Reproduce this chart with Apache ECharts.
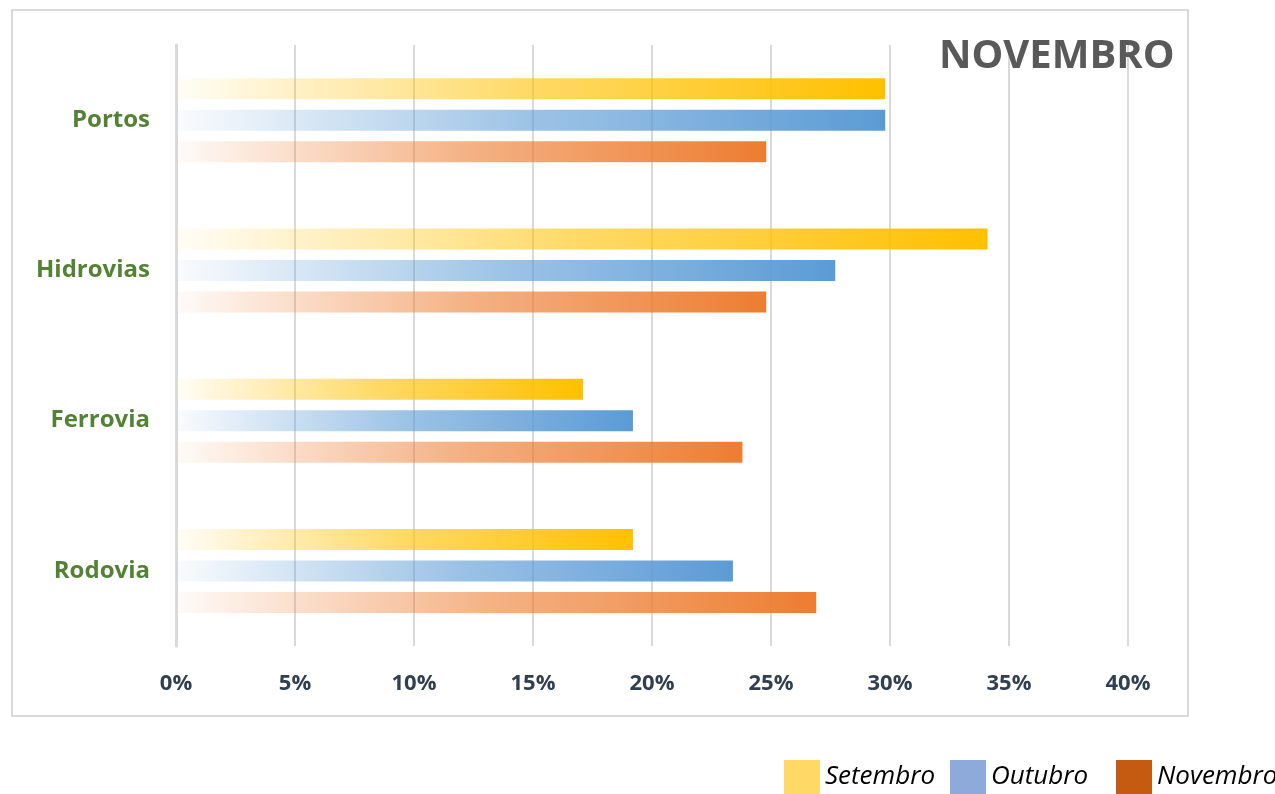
<!DOCTYPE html>
<html>
<head>
<meta charset="utf-8">
<script src="https://cdn.jsdelivr.net/npm/echarts@6/dist/echarts.min.js"></script>
<style>html,body{margin:0;padding:0;background:#fff;}#c{width:1275px;height:794px;}</style>
</head>
<body>
<div id="c"></div>
<script>
const categories = ['Portos', 'Hidrovias', 'Ferrovia', 'Rodovia'];
const setembro = [29.8, 34.1, 17.1, 19.2];
const outubro = [29.8, 27.7, 19.2, 23.4];
const novembro = [24.8, 24.8, 23.8, 26.9];
const xTicks = [0, 5, 10, 15, 20, 25, 30, 35, 40];

function grad(r, g, b) {
  return new echarts.graphic.LinearGradient(0, 0, 1, 0, [
    { offset: 0, color: `rgba(${r},${g},${b},0.03)` },
    { offset: 0.5, color: `rgba(${r},${g},${b},0.6)` },
    { offset: 1, color: `rgba(${r},${g},${b},1)` }
  ]);
}

const chart = echarts.init(document.getElementById('c'), null, { renderer: 'canvas' });
const legendText = { fontFamily: 'Open Sans', fontStyle: 'italic', fontSize: 26, color: '#000' };
const legendBase = { top: 760, padding: 0, itemWidth: 36, itemHeight: 34, icon: 'rect', itemGap: 6, textStyle: legendText };
chart.setOption({
  animation: false,
  backgroundColor: '#fff',
  title: {
    text: 'NOVEMBRO', left: 934, top: 32,
    textStyle: { fontFamily: 'Open Sans', fontWeight: 'bold', fontSize: 40, color: '#595959' }
  },
  graphic: [{
    type: 'rect', shape: { x: 12, y: 10, width: 1176, height: 706 },
    style: { fill: 'none', stroke: '#D9D9D9', lineWidth: 2 }, z: -1
  }],
  legend: [
    Object.assign({ data: [{ name: 'Setembro', itemStyle: { color: '#FFD966' } }], left: 784 }, legendBase),
    Object.assign({ data: [{ name: 'Outubro', itemStyle: { color: '#8EAADB' } }], left: 950 }, legendBase),
    Object.assign({ data: [{ name: 'Novembro', itemStyle: { color: '#C55A11' } }], left: 1116 }, legendBase)
  ],
  grid: { left: 176, right: 147, top: 45, bottom: 148, containLabel: false },
  xAxis: {
    type: 'value', min: 0, max: 40, interval: 5,
    axisLine: { show: false }, axisTick: { show: false },
    splitLine: { show: true, lineStyle: { color: '#D9D9D9', width: 2 } },
    axisLabel: {
      formatter: v => xTicks.includes(v) ? v + '%' : '', margin: 27,
      fontFamily: 'Open Sans', fontWeight: 'bold', fontSize: 22, color: '#323F4F'
    }
  },
  yAxis: {
    type: 'category', data: categories, inverse: true,
    axisLine: { show: true, lineStyle: { color: '#D9D9D9', width: 3 } },
    axisTick: { show: false },
    axisLabel: {
      margin: 26, fontFamily: 'Open Sans', fontWeight: 'bold', fontSize: 24, color: '#548235'
    }
  },
  series: [
    { name: 'Setembro', type: 'bar', data: setembro, barWidth: 21, barGap: '50%', itemStyle: { color: grad(255, 192, 0) } },
    { name: 'Outubro', type: 'bar', data: outubro, barWidth: 21, barGap: '50%', itemStyle: { color: grad(91, 155, 213) } },
    { name: 'Novembro', type: 'bar', data: novembro, barWidth: 21, barGap: '50%', itemStyle: { color: grad(237, 125, 49) } }
  ]
});
</script>
</body>
</html>
